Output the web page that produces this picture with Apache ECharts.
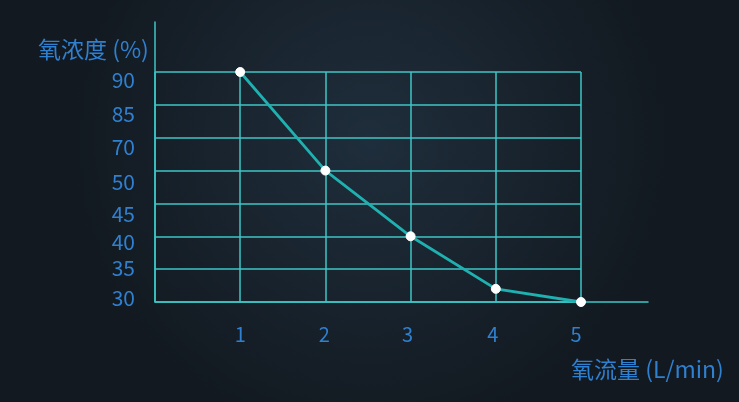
<!DOCTYPE html>
<html>
<head>
<meta charset="utf-8">
<script src="https://cdn.jsdelivr.net/npm/echarts@6/dist/echarts.min.js"></script>
<style>
html,body{margin:0;padding:0;width:739px;height:402px;overflow:hidden;background:#151e27;}
#c{width:739px;height:402px;}
</style>
</head>
<body>
<div id="c"></div>
<script>
// Data
var xCategories = [1, 2, 3, 4, 5];
var oxygenConcentration = [90, 50, 40, 32, 30];
var yTickLabels = ['30', '35', '40', '45', '50', '70', '85', '90'];
var yAxisTitle = '氧浓度 (%)';
var xAxisTitle = '氧流量 (L/min)';

// map a value onto the non-uniform tick ladder (piecewise linear between tick labels)
var tickVals = yTickLabels.map(Number);
function toTickPos(v) {
  for (var i = 0; i < tickVals.length - 1; i++) {
    if (v >= tickVals[i] && v <= tickVals[i + 1]) {
      return i + (v - tickVals[i]) / (tickVals[i + 1] - tickVals[i]);
    }
  }
  return v < tickVals[0] ? 0 : tickVals.length - 1;
}
var seriesData = xCategories.map(function (x, i) { return [x, toTickPos(oxygenConcentration[i])]; });

var font = 'Noto Sans CJK SC';
var labelColor = '#2f80d0';
var gridColor = '#3ec6c6';

// per-label nudges (layout only) to mimic the hand-placed labels of the reference
var yNudge = [-4, -1, 5.5, 10.5, 11, 9, 9, 8];
var xNudge = [0, 0, -1, -3, -3, -5];
var yRich = {}, xRich = {};
yNudge.forEach(function (o, i) {
  yRich['y' + i] = {color: labelColor, fontSize: 21, fontFamily: font,
    padding: o >= 0 ? [2 * o, 0, 0, 0] : [0, 0, -2 * o, 0]};
});
xNudge.forEach(function (o, i) {
  xRich['x' + i] = {color: labelColor, fontSize: 20, fontFamily: font,
    padding: o >= 0 ? [0, 0, 0, 2 * o] : [0, -2 * o, 0, 0]};
});

var chart = echarts.init(document.getElementById('c'));
chart.setOption({
  backgroundColor: {
    type: 'radial', x: 0.5, y: 0.35, r: 0.75,
    colorStops: [{offset: 0, color: '#1f2e3c'}, {offset: 1, color: '#121920'}]
  },
  title: [
    {text: yAxisTitle, left: 33, top: 33, textStyle: {color: labelColor, fontSize: 23, fontWeight: 'normal', fontFamily: font}},
    {text: xAxisTitle, left: 566, top: 353, textStyle: {color: labelColor, fontSize: 23, fontWeight: 'normal', fontFamily: font}}
  ],
  grid: [
    {left: 155, top: 72, width: 426, height: 230},
    {left: 155, top: 22, right: 91, bottom: 100}
  ],
  xAxis: [
    {
      gridIndex: 0, type: 'value', min: 0, max: 5, interval: 1,
      axisLine: {show: false}, axisTick: {show: false},
      axisLabel: {color: labelColor, fontSize: 20, fontFamily: font, margin: 22, rich: xRich,
        formatter: function (v) { return v === 0 ? '' : '{x' + v + '|' + v + '}'; }},
      splitLine: {show: true, lineStyle: {color: gridColor, width: 1.5}}
    },
    {
      gridIndex: 1, type: 'value', min: 0, max: 1,
      axisLine: {show: true, lineStyle: {color: gridColor, width: 1.5}},
      axisTick: {show: false}, axisLabel: {show: false}, splitLine: {show: false}
    }
  ],
  yAxis: [
    {
      gridIndex: 0, type: 'value', min: 0, max: yTickLabels.length - 1, interval: 1,
      axisLine: {show: false}, axisTick: {show: false},
      axisLabel: {color: labelColor, fontSize: 21, fontFamily: font, margin: 20, rich: yRich,
        formatter: function (v) { return '{y' + v + '|' + yTickLabels[v] + '}'; }},
      splitLine: {show: true, lineStyle: {color: gridColor, width: 1.5}}
    },
    {
      gridIndex: 1, type: 'value', min: 0, max: 1,
      axisLine: {show: true, lineStyle: {color: gridColor, width: 1.5}},
      axisTick: {show: false}, axisLabel: {show: false}, splitLine: {show: false}
    }
  ],
  series: [{
    type: 'line', xAxisIndex: 0, yAxisIndex: 0,
    data: seriesData,
    symbol: 'circle', symbolSize: 9,
    itemStyle: {color: '#ffffff', borderColor: '#ffffff'},
    lineStyle: {color: '#1fb0b0', width: 2.8},
    animation: false
  }]
});
</script>
</body>
</html>
